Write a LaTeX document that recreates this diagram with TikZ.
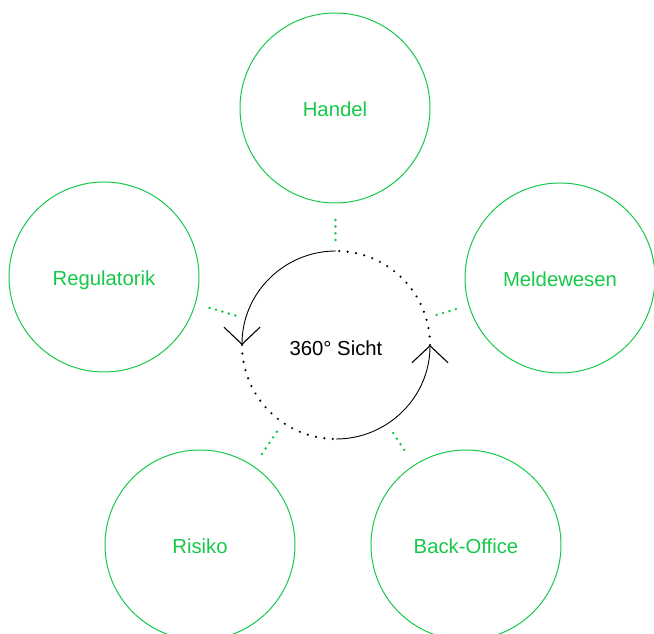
\documentclass[tikz,border=0pt]{standalone}
\usepackage{fontspec}
\setmainfont{Liberation Sans}
\usetikzlibrary{arrows.meta}
\definecolor{sgreen}{RGB}{22,200,72}
\begin{document}
\begin{tikzpicture}[x=1pt,y=1pt]
\tikzstyle{ar} = [circle,draw=sgreen,line width=1pt,text=sgreen,minimum size=190pt,inner sep=0pt,outer sep=0pt,text height=17.5pt,text depth=0pt,font=\fontsize{20.3}{24}\selectfont] %area
\tikzstyle{hb} = [circle,minimum size=188pt,inner sep=0pt,outer sep=0pt,text height=22pt,text depth=0pt,font=\fontsize{20.3}{24}\selectfont] %hub
\tikzstyle{sa} = [line width=0.9pt,-{Straight Barb[length=17pt,width=36pt,line width=1.1pt]}] %solid arc
\tikzstyle{da} = [line width=2.4pt,line cap=round,dash pattern=on 0pt off 8.5pt] %dotted arc
\tikzstyle{lk} = [sgreen,line width=2.8pt,line cap=round,dash pattern=on 0pt off 6.7pt,shorten <=11pt,shorten >=12pt] %link
\useasboundingbox (0,0) rectangle (654,634);
\node[hb](vhub)at(336,289){360° Sicht};
\node[ar](vhan)at(335,526){Handel};
\node[ar](vreg)at(104,357){Regulatorik};
\node[ar](vmel)at(560,356){Meldewesen};
\node[ar](vris)at(200,89){Risiko};
\node[ar](vbo)at(466,89){Back-Office};
\draw[sa](vhub.north) arc[start angle=90,end angle=180,radius=94pt];
\draw[da](vhub.west) arc[start angle=180,end angle=270,radius=94pt];
\draw[sa](vhub.south) arc[start angle=270,end angle=360,radius=94pt];
\draw[da](vhub.east) arc[start angle=0,end angle=90,radius=94pt];
\draw[lk](vhub)--(vhan);
\draw[lk](vhub)--(vreg);
\draw[lk](vhub)--(vmel);
\draw[lk](vhub)--(vris);
\draw[lk](vhub)--(vbo);
\end{tikzpicture}
\end{document}
